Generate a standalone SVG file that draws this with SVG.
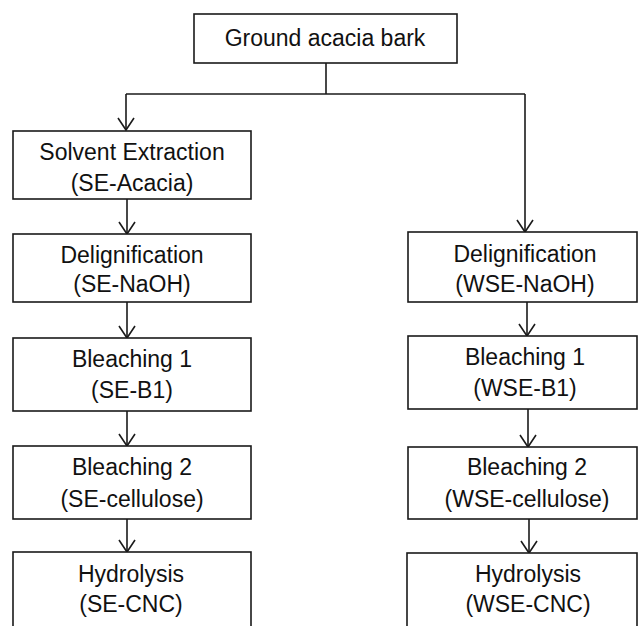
<svg xmlns="http://www.w3.org/2000/svg" width="638" height="626" viewBox="0 0 638 626">
<style>
rect{fill:#fff;stroke:#1a1a1a;stroke-width:1.6}
text{font-family:"Liberation Sans",Arial,sans-serif;font-size:23px;fill:#111;text-anchor:middle}
.c{fill:none;stroke:#1a1a1a;stroke-width:1.6}
</style>
<defs>
<marker id="ar" viewBox="0 0 20 20" refX="18" refY="10" markerWidth="20" markerHeight="20" markerUnits="userSpaceOnUse" orient="auto">
<path d="M6,2 L18,10 L6,18" fill="none" stroke="#1a1a1a" stroke-width="1.6"/>
</marker>
</defs>
<rect width="638" height="626" fill="#fff" style="stroke:none"/>
<g id="connectors">
<path class="c" d="M326,63 V94"/>
<path class="c" d="M126,94 H525"/>
<path class="c" d="M126,94 V130" marker-end="url(#ar)"/>
<path class="c" d="M525,94 V232" marker-end="url(#ar)"/>
<path class="c" d="M127,199 V234" marker-end="url(#ar)"/>
<path class="c" d="M127,302 V338" marker-end="url(#ar)"/>
<path class="c" d="M127,411 V446" marker-end="url(#ar)"/>
<path class="c" d="M127,519 V552" marker-end="url(#ar)"/>
<path class="c" d="M527,302 V336" marker-end="url(#ar)"/>
<path class="c" d="M528,409 V447" marker-end="url(#ar)"/>
<path class="c" d="M529,519 V553" marker-end="url(#ar)"/>
</g>
<g id="n0"><rect x="194" y="14" width="263" height="49"/><text x="325" y="46">Ground acacia bark</text></g>
<g id="l1"><rect x="13" y="131" width="238" height="68"/><text x="132" y="160">Solvent Extraction</text><text x="132" y="191">(SE-Acacia)</text></g>
<g id="l2"><rect x="13" y="234" width="238" height="68"/><text x="132" y="263">Delignification</text><text x="132" y="292">(SE-NaOH)</text></g>
<g id="l3"><rect x="13" y="338" width="238" height="73"/><text x="132" y="367">Bleaching 1</text><text x="132" y="398">(SE-B1)</text></g>
<g id="l4"><rect x="13" y="446" width="238" height="73"/><text x="132" y="475">Bleaching 2</text><text x="132" y="507">(SE-cellulose)</text></g>
<g id="l5"><rect x="13" y="552" width="238" height="90"/><text x="131" y="582">Hydrolysis</text><text x="131" y="612">(SE-CNC)</text></g>
<g id="r1"><rect x="408" y="232" width="229" height="70"/><text x="525" y="262">Delignification</text><text x="525" y="292">(WSE-NaOH)</text></g>
<g id="r2"><rect x="408" y="336" width="229" height="73"/><text x="525" y="365">Bleaching 1</text><text x="525" y="396">(WSE-B1)</text></g>
<g id="r3"><rect x="408" y="447" width="229" height="72"/><text x="527" y="475">Bleaching 2</text><text x="527" y="507">(WSE-cellulose)</text></g>
<g id="r4"><rect x="407" y="553" width="230" height="90"/><text x="528" y="582">Hydrolysis</text><text x="528" y="612">(WSE-CNC)</text></g>
</svg>
